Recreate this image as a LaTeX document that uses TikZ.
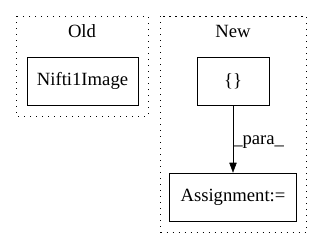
\documentclass[tikz,border=0pt]{standalone}
\usepackage{fontspec}
\setmainfont{Liberation Serif}
\usetikzlibrary{arrows.meta}

\begin{document}
\begin{tikzpicture}[x=0.75pt, y=-0.75pt, >={Triangle[length=7.5pt, width=5.5pt]}]

  % Styles
  \tikzset{
    box/.style={draw, thin, minimum height=36pt, inner sep=0pt, font=\fontsize{14pt}{16pt}\selectfont},
    cluster/.style={draw, thin, dash pattern=on 0.8pt off 3.7pt},
    title/.style={font=\fontsize{14pt}{16pt}\selectfont, inner sep=0pt},
    edge label/.style={font=\fontsize{14pt}{16pt}\selectfont, inner sep=0pt, anchor=west}
  }

  \useasboundingbox (0,0) rectangle (323,248);

  % --- Old ---
  \draw[cluster] (16,16) rectangle (148,116);
  \node[title] (oldtitle) at (82,31) {Old};
  \node[box, minimum width=83pt] (nifti) at (82.5,81) {Nifti1Image};

  % --- New ---
  \draw[cluster] (160.5,16) rectangle (306.5,232);
  \node[title] (newtitle) at (233,31) {New};
  \node[box, minimum width=54pt] (braces) at (233,81) {\{\}};
  \node[box, minimum width=95pt] (assign) at (233,197) {Assignment:=};

  % Edge
  \draw[->, thin] (braces) -- node[edge label, pos=0.55] {\_para\_} (assign);

\end{tikzpicture}
\end{document}
